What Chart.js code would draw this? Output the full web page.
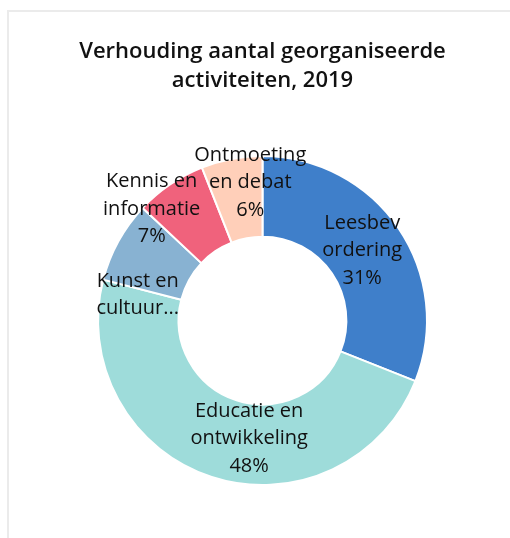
<!DOCTYPE html>
<html lang="nl">
  <head>
    <meta charset="UTF-8" />
    <title>Verhouding aantal georganiseerde activiteiten, 2019</title>
    <script src="https://cdn.jsdelivr.net/npm/chart.js"></script>
    <style>
      html, body { margin: 0; padding: 0; background: #fff; }
      .kaart {
        position: absolute; left: 7px; top: 10px;
        width: 540px; height: 560px;
        border: 2px solid #ebebeb;
      }
      #donut { position: absolute; left: 0; top: 0; }
    </style>
  </head>
  <body>
    <div class="kaart"></div>
    <canvas id="donut" width="510" height="538"></canvas>

    <script>
      // categorieen en aandelen (in procenten)
      const categorieen = [
        "Leesbevordering",
        "Educatie en ontwikkeling",
        "Kunst en cultuur",
        "Kennis en informatie",
        "Ontmoeting en debat",
      ];
      const aandelen = [31, 48, 8, 7, 6];
      // labels zoals ze in de grafiek staan
      const labelRegels = [
        ["Leesbev", "ordering", "31%"],
        ["Educatie en", "ontwikkeling", "48%"],
        ["Kunst en", "cultuur..."],
        ["Kennis en", "informatie", "7%"],
        ["Ontmoeting", "en debat", "6%"],
      ];
      const kleuren = ["#3f7fca", "#9edcda", "#88b2d2", "#f0627c", "#ffcfb9"];

      // verschuiving van elk label t.o.v. het midden van het segment
      const labelVerschuiving = [[-3, 0], [25, 0], [-16, 34], [-41, -9], [11, -16]];

      const segmentLabels = {
        id: "segmentLabels",
        afterDatasetsDraw(chart) {
          const ctx = chart.ctx;
          const meta = chart.getDatasetMeta(0);
          ctx.save();
          ctx.font = "400 20px 'Open Sans'";
          ctx.fillStyle = "#111";
          ctx.textAlign = "center";
          ctx.textBaseline = "middle";
          meta.data.forEach((arc, i) => {
            const pos = arc.tooltipPosition();
            const regels = labelRegels[i];
            const lh = 27.5;
            const x = pos.x + labelVerschuiving[i][0];
            const y0 = pos.y + labelVerschuiving[i][1] - ((regels.length - 1) * lh) / 2;
            regels.forEach((r, j) => ctx.fillText(r, x, y0 + j * lh));
          });
          ctx.restore();
        },
      };

      new Chart(document.getElementById("donut"), {
        type: "doughnut",
        data: {
          labels: categorieen,
          datasets: [
            {
              data: aandelen,
              backgroundColor: kleuren,
              borderColor: "#ffffff",
              borderWidth: 2,
            },
          ],
        },
        options: {
          responsive: false,
          animation: false,
          cutout: "51%",
          layout: { padding: { left: 15, right: 0, top: 0, bottom: 52 } },
          plugins: {
            legend: { display: false },
            tooltip: { enabled: false },
            title: {
              display: true,
              text: ["Verhouding aantal georganiseerde", "activiteiten, 2019"],
              color: "#111",
              font: { family: "'Open Sans'", size: 22, weight: "600", lineHeight: 1.32 },
              padding: { top: 37, bottom: 60 },
            },
          },
        },
        plugins: [segmentLabels],
      });
    </script>
  </body>
</html>
